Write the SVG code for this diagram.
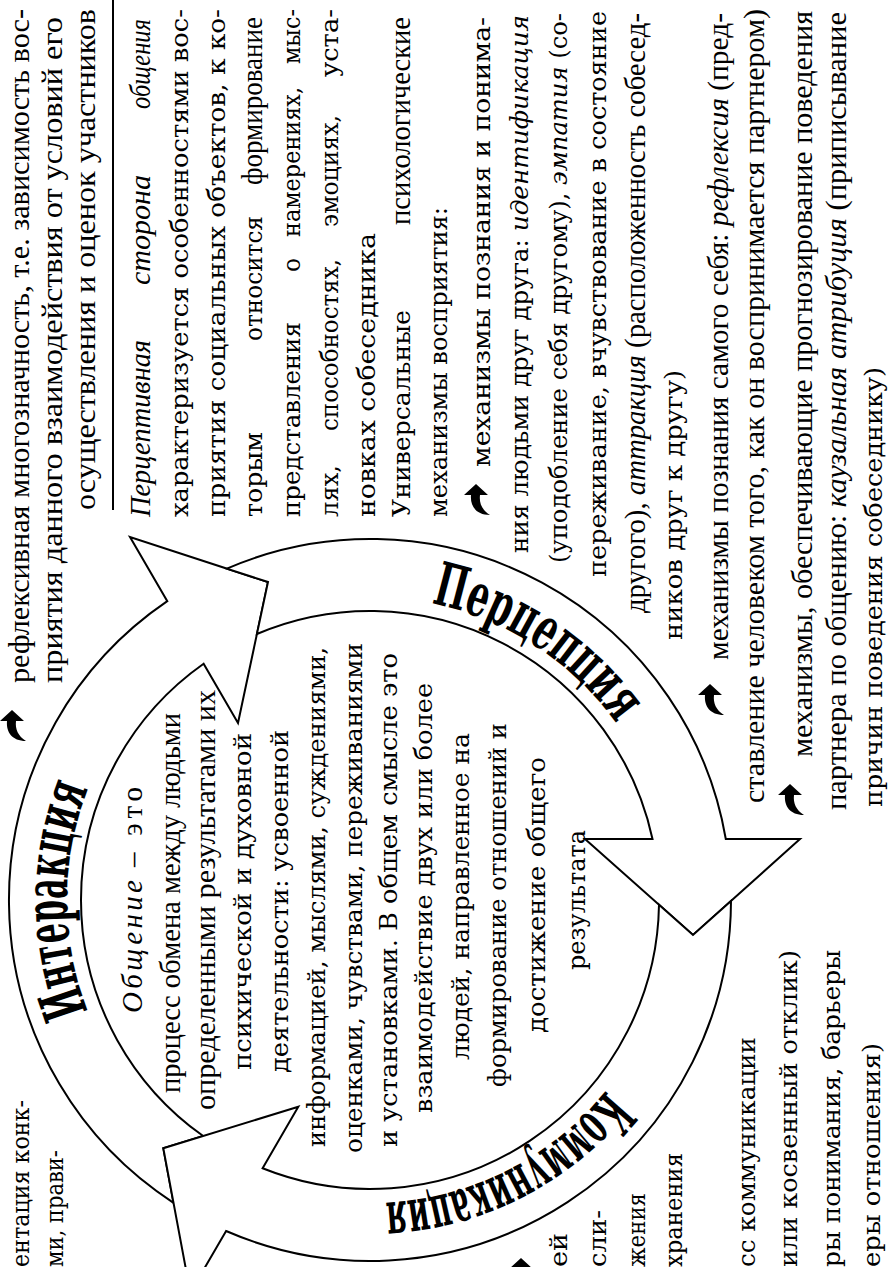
<svg xmlns="http://www.w3.org/2000/svg" width="888" height="1267" viewBox="0 0 888 1267">
<style>
text{font-family:"Liberation Serif","Times New Roman",serif;font-size:29px;fill:#000}
.d{font-family:"DejaVu Serif","Liberation Serif",serif;font-size:25px}
.i{font-style:italic}
.h{font-family:"DejaVu Serif","Liberation Serif",serif;font-weight:bold;font-size:60px}
.arrow{fill:#fff;stroke:#000;stroke-width:2;stroke-linejoin:miter}
.rule{stroke:#000;stroke-width:2}
</style>
<defs>
<path id="blt" d="M-14,12 C-14,-2 -5,-8 6,-7 L6,-14 L17,-2 L6,10 L6,2 C-2,1 -9,4 -14,12 Z" fill="#000"/>
<path id="hp1" d="M152.7,155.7 A303,303 0 0 1 581.3,155.7" fill="none"/>
<path id="hp2" d="M663.4,307 A303,303 0 0 1 430,666.4" fill="none"/>
<path id="hp3" d="M273.4,658.2 A303,303 0 0 1 78.8,276.4" fill="none"/>
</defs>
<rect width="888" height="1267" fill="#fff"/>
<g transform="matrix(0,-1,1,0,0,1267)">
<g id="connectors">
<g id="arrow-interaction">
<path class="arrow" d="M64.2,173.5 A361,361 0 0 1 665.8,167.3 L730,130 L685,268 L544,238 L603.3,203.6 A289,289 0 0 0 131,203.2 L118.7,163.3 Z"/>
<text class="h"><textPath href="#hp1" startOffset="50%" text-anchor="middle" textLength="228" lengthAdjust="spacingAndGlyphs">Интеракция</textPath></text>
</g>
<g id="arrow-perception">
<path class="arrow" d="M698.4,226.9 A361,361 0 0 1 428,725.8 L428,800 L332,693 L428,585 L428,652.5 A289,289 0 0 0 633,256.9 L685,268 Z"/>
<text class="h"><textPath href="#hp2" startOffset="50%" text-anchor="middle" textLength="226" lengthAdjust="spacingAndGlyphs">Перцепция</textPath></text>
</g>
<g id="arrow-communication">
<path class="arrow" d="M366.1,731 A361,361 0 0 1 36,226.1 L-25.6,190.3 L118.7,163.3 L160.3,298.3 L98.7,262.6 A289,289 0 0 0 362.3,659 L332,693 Z"/>
<text class="h"><textPath href="#hp3" startOffset="50%" text-anchor="middle" textLength="255" lengthAdjust="spacingAndGlyphs">Коммуникация</textPath></text>
</g>
</g>
<g id="center-text">
<text class="i" x="254" y="142" textLength="133" lengthAdjust="spacing" font-size="30">Общение</text>
<text x="400" y="142" textLength="80" lengthAdjust="spacing" font-size="30">– это</text>
<text x="174" y="180" textLength="380" lengthAdjust="spacingAndGlyphs" font-size="30">процесс обмена между людьми</text>
<text x="157" y="215" textLength="420" lengthAdjust="spacingAndGlyphs" font-size="30">определенными результатами их</text>
<text class="d" x="197" y="251" textLength="337" lengthAdjust="spacingAndGlyphs">психической и духовной</text>
<text class="d" x="194" y="288" textLength="343" lengthAdjust="spacingAndGlyphs">деятельности: усвоенной</text>
<text class="d" x="120" y="325" textLength="500" lengthAdjust="spacingAndGlyphs">информацией, мыслями, суждениями,</text>
<text class="d" x="114" y="362" textLength="510" lengthAdjust="spacingAndGlyphs">оценками, чувствами, переживаниями</text>
<text class="d" x="120" y="397" textLength="494" lengthAdjust="spacingAndGlyphs">и установками. В общем смысле это</text>
<text class="d" x="154" y="432" textLength="430" lengthAdjust="spacingAndGlyphs">взаимодействие двух или более</text>
<text class="d" x="207" y="469" textLength="327" lengthAdjust="spacingAndGlyphs">людей, направленное на</text>
<text class="d" x="180" y="506" textLength="364" lengthAdjust="spacingAndGlyphs">формирование отношений и</text>
<text class="d" x="234" y="545" textLength="276" lengthAdjust="spacingAndGlyphs">достижение общего</text>
<text class="d" x="297" y="585" textLength="140" lengthAdjust="spacingAndGlyphs">результата</text>
</g>
<g id="right-text">
<use href="#blt" x="540" y="14"/>
<text x="584" y="29" textLength="674" lengthAdjust="spacingAndGlyphs">рефлексивная многозначность, т.е. зависимость вос-</text>
<text x="584" y="62" textLength="666" lengthAdjust="spacingAndGlyphs">приятия данного взаимодействия от условий его</text>
<text x="757" y="95" textLength="501" lengthAdjust="spacingAndGlyphs">осуществления и оценок участников</text>
<line class="rule" x1="757" y1="113" x2="1267" y2="113"/>
<text class="i" x="750" y="150" textLength="177" lengthAdjust="spacingAndGlyphs">Перцептивная</text>
<text class="i" x="982" y="150" textLength="110" lengthAdjust="spacingAndGlyphs">сторона</text>
<text class="i" x="1158" y="150" textLength="90" lengthAdjust="spacingAndGlyphs">общения</text>
<text class="d" x="750" y="188" textLength="508" lengthAdjust="spacingAndGlyphs">характеризуется особенностями вос-</text>
<text class="d" x="750" y="225" textLength="508" lengthAdjust="spacingAndGlyphs">приятия социальных объектов, к ко-</text>
<text class="d" x="750" y="262" textLength="85" lengthAdjust="spacingAndGlyphs">торым</text>
<text class="d" x="926" y="262" textLength="125" lengthAdjust="spacingAndGlyphs">относится</text>
<text x="1082" y="262" textLength="168" lengthAdjust="spacingAndGlyphs">формирование</text>
<text class="d" x="750" y="300" textLength="195" lengthAdjust="spacingAndGlyphs">представления</text>
<text class="d" x="995" y="300" textLength="14" lengthAdjust="spacingAndGlyphs">о</text>
<text class="d" x="1030" y="300" textLength="150" lengthAdjust="spacingAndGlyphs">намерениях,</text>
<text class="d" x="1203" y="300" textLength="55" lengthAdjust="spacingAndGlyphs">мыс-</text>
<text class="d" x="750" y="338" textLength="52" lengthAdjust="spacingAndGlyphs">лях,</text>
<text class="d" x="836" y="338" textLength="172" lengthAdjust="spacingAndGlyphs">способностях,</text>
<text class="d" x="1040" y="338" textLength="112" lengthAdjust="spacingAndGlyphs">эмоциях,</text>
<text class="d" x="1190" y="338" textLength="68" lengthAdjust="spacingAndGlyphs">уста-</text>
<text class="d" x="750" y="375" textLength="284" lengthAdjust="spacingAndGlyphs">новках собеседника</text>
<text class="d" x="750" y="410" textLength="207" lengthAdjust="spacingAndGlyphs">Универсальные</text>
<text x="1042" y="410" textLength="208" lengthAdjust="spacingAndGlyphs">психологические</text>
<text class="d" x="750" y="447" textLength="310" lengthAdjust="spacingAndGlyphs">механизмы восприятия:</text>
<use href="#blt" x="766" y="478"/>
<text class="d" x="800" y="490" textLength="450" lengthAdjust="spacingAndGlyphs">механизмы познания и понима-</text>
<text class="d" x="714" y="528" textLength="538" lengthAdjust="spacingAndGlyphs">ния людьми друг друга: <tspan class="i">идентификация</tspan></text>
<text class="d" x="704" y="567" textLength="550" lengthAdjust="spacingAndGlyphs">(уподобление себя другому), <tspan class="i">эмпатия</tspan> (со-</text>
<text class="d" x="690" y="606" textLength="566" lengthAdjust="spacingAndGlyphs">переживание, вчувствование в состояние</text>
<text x="654" y="645" textLength="600" lengthAdjust="spacingAndGlyphs">другого), <tspan class="i">аттракция</tspan> (расположенность собесед-</text>
<text class="d" x="627" y="682" textLength="270" lengthAdjust="spacingAndGlyphs">ников друг к другу)</text>
<use href="#blt" x="566" y="712"/>
<text x="607" y="728" textLength="647" lengthAdjust="spacingAndGlyphs">механизмы познания самого себя: <tspan class="i">рефлексия</tspan> (пред-</text>
<text x="464" y="764" textLength="794" lengthAdjust="spacingAndGlyphs">ставление человеком того, как он воспринимается партнером)</text>
<use href="#blt" x="466" y="792"/>
<text x="510" y="812" textLength="746" lengthAdjust="spacingAndGlyphs">механизмы, обеспечивающие прогнозирование поведения</text>
<text x="457" y="846" textLength="798" lengthAdjust="spacingAndGlyphs">партнера по общению: <tspan class="i">каузальная атрибуция</tspan> (приписывание</text>
<text class="d" x="460" y="882" textLength="440" lengthAdjust="spacingAndGlyphs">причин поведения собеседнику)</text>
</g>
<g id="left-text">
<text class="d" x="0" y="29" textLength="167" lengthAdjust="spacingAndGlyphs">ентация конк-</text>
<text class="d" x="0" y="63" textLength="117" lengthAdjust="spacingAndGlyphs">ми, прави-</text>
<use href="#blt" x="-8" y="523"/>
<text class="d" x="0" y="567" textLength="34" lengthAdjust="spacingAndGlyphs">ей</text>
<text class="d" x="0" y="606" textLength="57" lengthAdjust="spacingAndGlyphs">сли-</text>
<text class="d" x="0" y="645" textLength="74" lengthAdjust="spacingAndGlyphs">жения</text>
<text class="d" x="0" y="682" textLength="114" lengthAdjust="spacingAndGlyphs">хранения</text>
<text class="d" x="0" y="755" textLength="230" lengthAdjust="spacingAndGlyphs">сс коммуникации</text>
<text class="d" x="0" y="797" textLength="317" lengthAdjust="spacingAndGlyphs">или косвенный отклик)</text>
<text class="d" x="0" y="840" textLength="317" lengthAdjust="spacingAndGlyphs">ры понимания, барьеры</text>
<text class="d" x="0" y="880" textLength="224" lengthAdjust="spacingAndGlyphs">еры отношения)</text>
</g>
</g>
</svg>
